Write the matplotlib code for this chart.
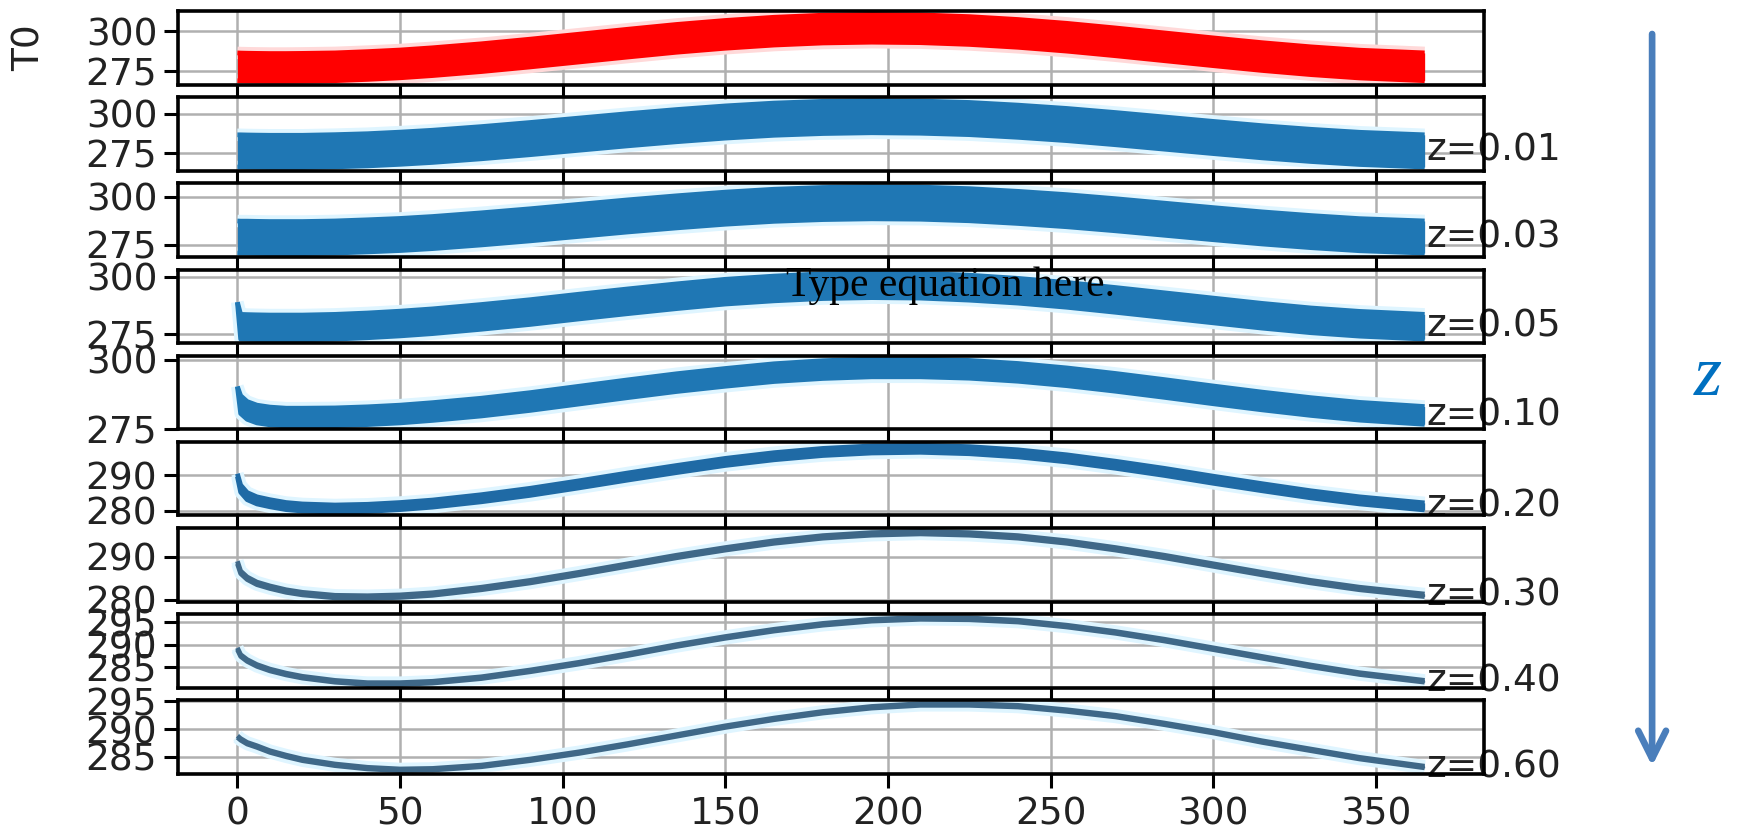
import matplotlib
matplotlib.use("Agg")
import matplotlib.pyplot as plt
from matplotlib.patches import FancyArrowPatch
from matplotlib.font_manager import FontProperties

# ---------------- data ----------------
days = [0, 1, 3, 6, 10, 15, 20, 30, 40, 50, 60, 75, 90, 105, 120, 135, 150,
        165, 180, 195, 210, 225, 240, 255, 270, 285, 300, 315, 330, 345, 365]

labels = ["T0", "z=0.01", "z=0.03", "z=0.05", "z=0.10",
          "z=0.20", "z=0.30", "z=0.40", "z=0.60"]

T0_lo = [269.2, 269.1, 269.0, 268.9, 268.8, 268.8, 268.9, 269.2, 270.0, 271.0, 272.4, 274.9, 277.8, 280.9, 284.0, 287.0,
         289.5, 291.5, 292.8, 293.3, 293.0, 291.9, 290.1, 287.7, 284.8, 281.7, 278.6, 275.6, 273.0, 270.9, 269.2]
T0_hi = [286.6, 286.5, 286.4, 286.3, 286.2, 286.2, 286.3, 286.6, 287.4, 288.4, 289.8, 292.3, 295.2, 298.3, 301.4, 304.4,
         306.9, 308.9, 310.2, 310.7, 310.4, 309.3, 307.5, 305.1, 302.2, 299.1, 296.0, 293.0, 290.4, 288.3, 286.6]

z01_lo = [266.4, 266.4, 266.3, 266.2, 266.1, 266.1, 266.1, 266.5, 267.1, 268.1, 269.3, 271.6, 274.2, 277.0, 279.8, 282.4,
          284.7, 286.5, 287.6, 288.1, 287.8, 286.9, 285.2, 283.1, 280.5, 277.7, 274.9, 272.2, 269.9, 268.0, 266.4]
z01_hi = [286.8, 286.8, 286.7, 286.6, 286.5, 286.5, 286.5, 286.9, 287.5, 288.5, 289.7, 292.0, 294.6, 297.4, 300.2, 302.8,
          305.1, 306.9, 308.0, 308.5, 308.2, 307.3, 305.6, 303.5, 300.9, 298.1, 295.3, 292.6, 290.3, 288.4, 286.8]

z03_lo = [270.8, 270.7, 270.7, 270.6, 270.5, 270.5, 270.5, 270.8, 271.4, 272.1, 273.1, 275.0, 277.1, 279.4, 281.7, 283.8,
          285.7, 287.2, 288.1, 288.5, 288.3, 287.5, 286.1, 284.4, 282.3, 280.0, 277.7, 275.5, 273.6, 272.0, 270.8]
z03_hi = [287.4, 287.3, 287.3, 287.2, 287.1, 287.1, 287.1, 287.4, 288.0, 288.7, 289.7, 291.6, 293.7, 296.0, 298.3, 300.4,
          302.3, 303.8, 304.7, 305.1, 304.9, 304.1, 302.7, 301.0, 298.9, 296.6, 294.3, 292.1, 290.2, 288.6, 287.4]

z05_lo = [289.0, 272.9, 272.8, 272.7, 272.6, 272.6, 272.6, 272.9, 273.5, 274.3, 275.3, 277.2, 279.3, 281.7, 284.0, 286.2,
          288.2, 289.6, 290.6, 291.0, 290.8, 289.9, 288.6, 286.8, 284.6, 282.3, 280.0, 277.7, 275.7, 274.2, 272.9]
z05_hi = [289.0, 283.7, 283.6, 283.5, 283.4, 283.4, 283.4, 283.7, 284.3, 285.1, 286.1, 288.0, 290.1, 292.5, 294.8, 297.0,
          299.0, 300.4, 301.4, 301.8, 301.6, 300.8, 299.4, 297.6, 295.4, 293.1, 290.8, 288.5, 286.5, 285.0, 283.7]

z10_lo = [290.3, 280.6, 278.5, 277.2, 276.5, 276.1, 276.1, 276.2, 276.6, 277.2, 278.1, 279.7, 281.7, 284.0, 286.3, 288.5,
          290.4, 292.1, 293.2, 293.8, 293.8, 293.3, 292.2, 290.6, 288.6, 286.4, 284.1, 281.9, 279.9, 278.2, 276.7]
z10_hi = [290.3, 287.0, 284.9, 283.6, 282.9, 282.5, 282.5, 282.6, 283.0, 283.6, 284.5, 286.1, 288.1, 290.4, 292.7, 294.9,
          296.8, 298.5, 299.6, 300.2, 300.2, 299.7, 298.6, 297.0, 295.0, 292.8, 290.5, 288.3, 286.3, 284.6, 283.1]

z20_lo = [289.6, 285.2, 283.1, 281.9, 281.1, 280.3, 279.9, 279.6, 279.8, 280.3, 281.0, 282.5, 284.3, 286.4, 288.6, 290.7,
          292.7, 294.3, 295.5, 296.2, 296.4, 296.0, 295.1, 293.7, 291.9, 289.9, 287.7, 285.6, 283.6, 281.9, 280.2]
z20_hi = [290.4, 287.2, 285.1, 283.9, 283.1, 282.3, 281.9, 281.6, 281.8, 282.3, 283.0, 284.5, 286.3, 288.4, 290.6, 292.7,
          294.7, 296.3, 297.5, 298.2, 298.4, 298.0, 297.1, 295.7, 293.9, 291.9, 289.7, 287.6, 285.6, 283.9, 282.2]

z30_lo = [288.4, 286.1, 284.7, 283.5, 282.6, 281.7, 281.1, 280.4, 280.3, 280.5, 281.0, 282.3, 283.9, 285.8, 287.8, 289.8,
          291.6, 293.2, 294.4, 295.1, 295.4, 295.1, 294.4, 293.2, 291.6, 289.8, 287.8, 285.8, 283.9, 282.3, 280.7]
z30_hi = [289.0, 286.7, 285.3, 284.1, 283.2, 282.3, 281.7, 281.0, 280.9, 281.1, 281.6, 282.9, 284.5, 286.4, 288.4, 290.4,
          292.2, 293.8, 295.0, 295.7, 296.0, 295.7, 295.0, 293.8, 292.2, 290.4, 288.4, 286.4, 284.5, 282.9, 281.3]

z40_lo = [288.9, 287.4, 286.3, 285.2, 284.2, 283.3, 282.6, 281.7, 281.2, 281.2, 281.5, 282.5, 284.0, 285.7, 287.6, 289.6,
          291.4, 293.0, 294.3, 295.2, 295.6, 295.5, 295.0, 293.9, 292.5, 290.8, 288.9, 287.0, 285.1, 283.4, 281.7]
z40_hi = [289.3, 287.8, 286.7, 285.6, 284.6, 283.7, 283.0, 282.1, 281.6, 281.6, 281.9, 282.9, 284.4, 286.1, 288.0, 290.0,
          291.8, 293.4, 294.7, 295.6, 296.0, 295.9, 295.4, 294.3, 292.9, 291.2, 289.3, 287.4, 285.5, 283.8, 282.1]

z60_lo = [288.5, 288.0, 287.3, 286.7, 285.8, 285.0, 284.3, 283.4, 282.8, 282.5, 282.6, 283.2, 284.3, 285.6, 287.1, 288.7,
          290.3, 291.7, 292.9, 293.8, 294.3, 294.3, 294.0, 293.2, 292.2, 290.8, 289.3, 287.6, 286.1, 284.6, 283.0]
z60_hi = [288.8, 288.3, 287.6, 287.0, 286.1, 285.3, 284.6, 283.7, 283.1, 282.8, 282.9, 283.5, 284.6, 285.9, 287.4, 289.0,
          290.6, 292.0, 293.2, 294.1, 294.6, 294.6, 294.3, 293.5, 292.5, 291.1, 289.6, 287.9, 286.4, 284.9, 283.3]

lows = [T0_lo, z01_lo, z03_lo, z05_lo, z10_lo, z20_lo, z30_lo, z40_lo, z60_lo]
highs = [T0_hi, z01_hi, z03_hi, z05_hi, z10_hi, z20_hi, z30_hi, z40_hi, z60_hi]

yticks = [[275, 300], [275, 300], [275, 300], [275, 300], [275, 300],
          [280, 290], [280, 290], [285, 290, 295], [285, 290, 295]]
xticks = [0, 50, 100, 150, 200, 250, 300, 350]

# ---------------- style ----------------
colors = ["#ff0000", "#1f77b4", "#1f77b4", "#1f77b4", "#1f77b4",
          "#1f6aa5", "#3f6888", "#3f6888", "#3f6888"]
halos = ["#ffd9d9"] + ["#dff5ff"] * 8
FS = 27


def tfont():
    return FontProperties(family="DejaVu Sans", size=FS)


fig, axes = plt.subplots(9, 1, sharex=True, figsize=(17.42, 8.36), dpi=100)
fig.subplots_adjust(left=0.1022, right=0.8519, top=0.9868, bottom=0.0742, hspace=0.17)

for i, ax in enumerate(axes):
    lo, hi, c = lows[i], highs[i], colors[i]
    ax.plot(days, lo, color=halos[i], lw=9, solid_capstyle="butt", zorder=1.5)
    ax.plot(days, hi, color=halos[i], lw=9, solid_capstyle="butt", zorder=1.5)
    ax.fill_between(days, lo, hi, color=c, lw=0, zorder=2)
    ax.plot(days, lo, color=c, lw=3.4, solid_capstyle="butt", zorder=2)
    ax.plot(days, hi, color=c, lw=3.4, solid_capstyle="butt", zorder=2)
    ax.set_yticks(yticks[i])
    ax.set_xticks(xticks)
    ax.grid(True, color="#b0b0b0", lw=1.8)
    ax.set_axisbelow(True)
    for s in ax.spines.values():
        s.set_linewidth(2.6)
        s.set_color("black")
    ax.tick_params(axis="both", direction="out", length=10, width=2.2, colors="black")
    ax.tick_params(axis="y", pad=5)
    ax.tick_params(axis="x", pad=6)
    for t in ax.get_yticklabels() + ax.get_xticklabels():
        t.set_fontproperties(tfont())
        t.set_color("#222222")
    if i > 0:
        mid = (lo[-1] + hi[-1]) / 2
        ax.annotate(labels[i], xy=(days[-1], mid), xytext=(1, 0), textcoords="offset points",
                    ha="left", va="center", fontproperties=tfont(),
                    color="#222222", zorder=2.2, annotation_clip=False)

axes[0].set_ylabel(labels[0], fontproperties=tfont(), color="#222222")
axes[0].yaxis.set_label_coords(-0.10, 0.5)

# overlay: Word-like annotation, arrow and z
fig.text(0.5454, 0.646, "Type equation here.", family="Liberation Serif", fontsize=30,
         ha="center", va="baseline", color="black")
arrow = FancyArrowPatch((0.9484, 1 - 34 / 836), (0.9484, 1 - 766 / 836), transform=fig.transFigure,
                        arrowstyle="->", mutation_scale=50, lw=4.8, color="#4a7ebb",
                        shrinkA=0, shrinkB=0, capstyle="round")
fig.add_artist(arrow)
fig.text(0.9805, 0.549, "z", family="Liberation Serif", style="italic", fontsize=52,
         ha="center", va="center", color="#0070c0")

fig.savefig("out.png", dpi=100, facecolor="white")
